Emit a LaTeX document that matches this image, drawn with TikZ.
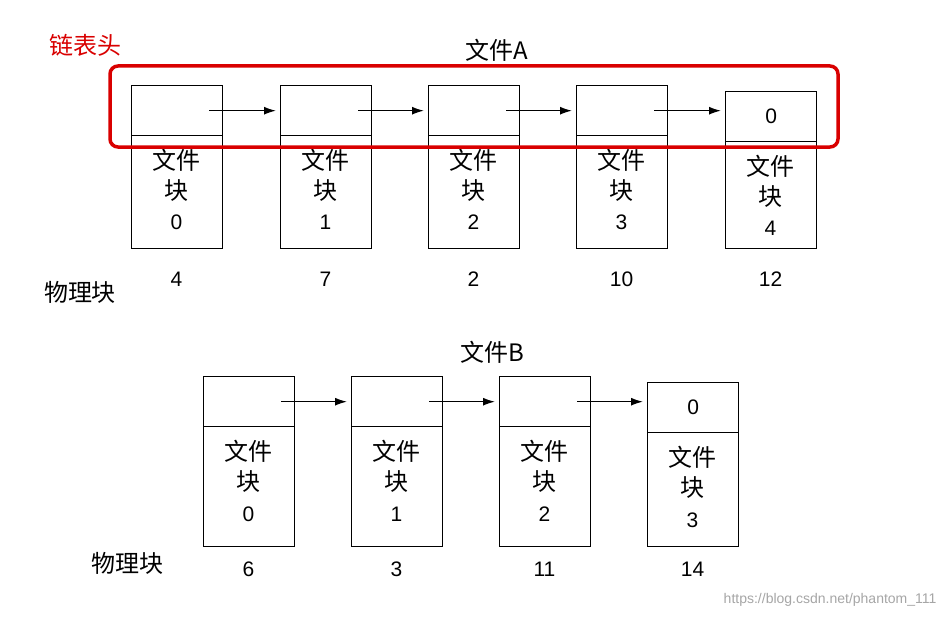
\documentclass[tikz,border=0pt]{standalone}
\usepackage{fontspec}
\usetikzlibrary{arrows.meta}
\setmainfont{Liberation Sans}
\newfontfamily\cjk{Noto Sans CJK SC}
\begin{document}
\begin{tikzpicture}[x=1pt,y=-1pt,
  cell/.style={draw,line width=1.4pt,inner sep=0,anchor=north west},
  lbl/.style={font=\cjk\fontsize{24}{26}\selectfont},
  num/.style={font=\fontsize{21}{23}\selectfont},
  arr/.style={-{Latex[length=12pt,width=8pt]},line width=1.4pt}]
\useasboundingbox (0,0) rectangle (946,618);
\fill[white] (0,0) rectangle (946,618);
\node[lbl] (ta) at (497,50) {文件A};
\node[lbl] (tb) at (492,352) {文件B};
\node[lbl,text=red!85!black] (hd) at (85,45) {链表头};
% File A
\foreach \i/\x/\n/\p/\d in {0/131/0/4/0,1/280/1/7/0,2/428/2/2/0,3/576/3/10/0,4/725/4/12/6}{
  \node[cell,minimum width=91pt,minimum height=50pt] (a\i t) at (\x,85+\d) {\ifnum\i=4 \fontsize{21}{23}\selectfont 0\fi};
  \node[cell,minimum width=91pt,minimum height={113pt-\d pt}] (a\i b) at (\x,135+\d) {};
  \node[align=center,font=\cjk\fontsize{24}{30}\selectfont] (a\i l) at (\x+45.5,175+\d) {文件\\块};
  \node[num] (a\i n) at (\x+45.5,222+\d) {\n};
  \node[num] (a\i p) at (\x+45.5,279) {\p};
}
\foreach \i/\j in {0/1,1/2,2/3,3/4}{
  \draw[arr] ([xshift=-14pt]a\i t.east) -- ([xshift=-4pt]a\j t.west |- a\i t.east);
}
\node[lbl] (pa) at (80,292) {物理块};
\draw[red!85!black,line width=3.5pt,rounded corners=8pt] (110,66) rectangle (838,147);
% File B
\foreach \i/\x/\n/\p/\d in {0/203/0/6/0,1/351/1/3/0,2/499/2/11/0,3/647/3/14/6}{
  \node[cell,minimum width=91pt,minimum height=50pt] (b\i t) at (\x,376+\d) {\ifnum\i=3 \fontsize{21}{23}\selectfont 0\fi};
  \node[cell,minimum width=91pt,minimum height={120pt-\d pt}] (b\i b) at (\x,426+\d) {};
  \node[align=center,font=\cjk\fontsize{24}{30}\selectfont] (b\i l) at (\x+45.5,466+\d) {文件\\块};
  \node[num] (b\i n) at (\x+45.5,514+\d) {\n};
  \node[num] (b\i p) at (\x+45.5,569) {\p};
}
\foreach \i/\j in {0/1,1/2,2/3}{
  \draw[arr] ([xshift=-14pt]b\i t.east) -- ([xshift=-4pt]b\j t.west |- b\i t.east);
}
\node[lbl] (pb) at (127,563) {物理块};
\node[text=gray!70,font=\fontsize{14}{16}\selectfont,anchor=east] (wm) at (940,600) {https://blog.csdn.net/phantom\_111};
\end{tikzpicture}
\end{document}
